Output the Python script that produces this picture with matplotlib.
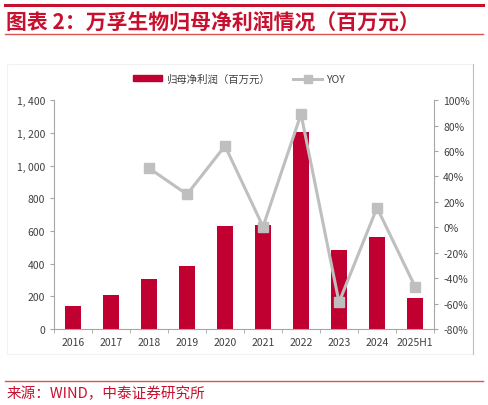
import matplotlib.pyplot as plt
import numpy as np
from matplotlib.lines import Line2D
from matplotlib.patches import Patch, Rectangle
from matplotlib.ticker import FuncFormatter

plt.rcParams['font.family'] = ['Noto Sans CJK SC', 'DejaVu Sans']

years = ['2016', '2017', '2018', '2019', '2020', '2021', '2022', '2023', '2024', '2025H1']
profit = [141, 208, 306, 387, 631, 636, 1202, 485, 560, 187]
yoy = [np.nan, np.nan, 46.5, 25.9, 64.0, 0.5, 89.0, -58.9, 15.4, -46.6]

red = '#C00030'
grey = '#BFBFBF'
axis_col = '#A6A6A6'
txt_col = '#404040'

fig = plt.figure(figsize=(4.88, 4.06), dpi=100)

# header / footer decorations
fig.add_artist(Line2D([0.01, 0.99], [0.985, 0.985], color='#C8102E', lw=2.2))
fig.add_artist(Line2D([0.01, 0.99], [0.913, 0.913], color='#D9534F', lw=1.0))
fig.add_artist(Line2D([0.01, 0.99], [0.059, 0.059], color='#D9534F', lw=1.0))
fig.text(0.013, 0.945, '图表 2：万孚生物归母净利润情况（百万元）', color='#C8102E',
         fontsize=15, fontweight='bold', style='italic', va='center', ha='left')
fig.text(0.013, 0.031, '来源：WIND，中泰证券研究所', color='#C8102E',
         fontsize=10.5, va='center', ha='left')
fig.add_artist(Rectangle((0.014, 0.126), 0.955, 0.713, transform=fig.transFigure,
                         fill=False, ec='#F2F2F2', lw=0.8))
fig.add_artist(Line2D([0.969, 0.969], [0.126, 0.839], color='#BFBFBF', lw=0.8))

ax = fig.add_axes([0.1107, 0.187, 0.7787, 0.564])
x = np.arange(len(years))
ax.bar(x, profit, width=0.4, color=red, zorder=2)
ax.set_ylim(0, 1400)
ax.set_yticks(np.arange(0, 1401, 200))
ax.yaxis.set_major_formatter(FuncFormatter(lambda v, p: '{:,}'.format(int(v)).replace(',', ', ')))
ax.set_xlim(-0.5, len(years) - 0.5)
ax.set_xticks(x)
ax.set_xticklabels(years)
ax.set_xticks(np.arange(-0.5, len(years), 1), minor=True)
ax.tick_params(axis='x', which='major', length=0, pad=6)
ax.tick_params(axis='x', which='minor', length=3, color=axis_col)
ax.tick_params(axis='y', length=3, color=axis_col)
ax.tick_params(labelsize=7.5, labelcolor=txt_col)
for s in ['top', 'right']:
    ax.spines[s].set_visible(False)
for s in ['left', 'bottom']:
    ax.spines[s].set_color(axis_col)
    ax.spines[s].set_linewidth(0.8)

ax2 = ax.twinx()
ax2.plot(x, yoy, color=grey, lw=2.2, marker='s', markersize=7, zorder=3)
ax2.set_ylim(-80, 100)
ax2.set_yticks(np.arange(-80, 101, 20))
ax2.yaxis.set_major_formatter(FuncFormatter(lambda v, p: '{:d}%'.format(int(v))))
ax2.tick_params(axis='y', length=3, color=axis_col, labelsize=7.5, labelcolor=txt_col)
for s in ['top', 'left', 'bottom']:
    ax2.spines[s].set_visible(False)
ax2.spines['right'].set_color(axis_col)
ax2.spines['right'].set_linewidth(0.8)

handles = [Patch(color=red),
           Line2D([0], [0], color=grey, lw=2.2, marker='s', markersize=6)]
fig.legend(handles, ['归母净利润（百万元）', 'YOY'], loc='center', bbox_to_anchor=(0.49, 0.803),
           ncol=2, frameon=False, fontsize=7.5, handlelength=2.8, handleheight=0.5,
           columnspacing=2.2, handletextpad=0.4, labelcolor=txt_col)

fig.savefig('out.png', dpi=100)
